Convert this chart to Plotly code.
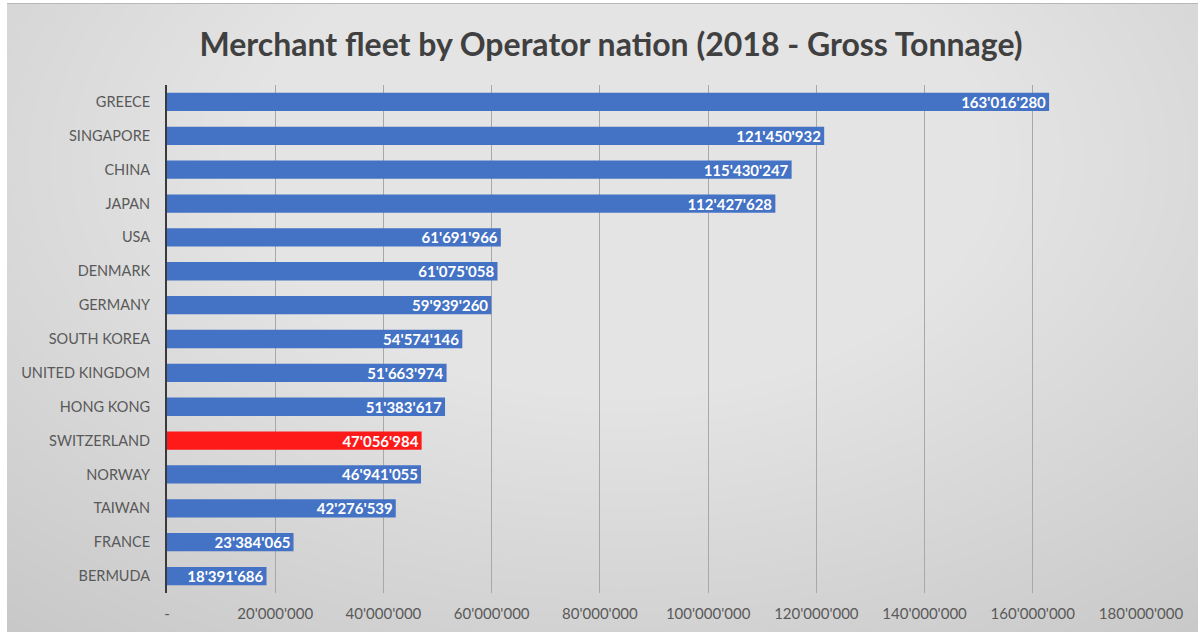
import plotly.graph_objects as go

countries = ["GREECE", "SINGAPORE", "CHINA", "JAPAN", "USA", "DENMARK", "GERMANY",
             "SOUTH KOREA", "UNITED KINGDOM", "HONG KONG", "SWITZERLAND", "NORWAY",
             "TAIWAN", "FRANCE", "BERMUDA"]
tonnage = [163016280, 121450932, 115430247, 112427628, 61691966, 61075058, 59939260,
           54574146, 51663974, 51383617, 47056984, 46941055, 42276539, 23384065, 18391686]
highlight = "SWITZERLAND"
tick_vals = [0, 20000000, 40000000, 60000000, 80000000, 100000000, 120000000,
             140000000, 160000000, 180000000]
tick_text = ["-"] + [f"{v:,}".replace(",", "'") for v in tick_vals[1:]]

W, H = 1202, 632
L, R, T, B = 167, 1141, 85, 593

def px(x):
    return (x - L) / (R - L)

def py(y):
    return (B - y) / (B - T)

colors = ["#ff1a1a" if c == highlight else "#4472c4" for c in countries]
labels = [f"{v:,}".replace(",", "'") for v in tonnage]

fig = go.Figure(go.Bar(
    x=tonnage, y=countries, orientation="h",
    marker=dict(color=colors, line=dict(width=0)),
    width=0.54,
    text=labels, textposition="inside", insidetextanchor="end",
    textfont=dict(family="Lato", size=15, color="white", weight="bold"),
    textangle=0, cliponaxis=False,
))

shapes = [dict(type="rect", xref="paper", yref="paper",
               x0=px(7), x1=px(1198), y0=py(632), y1=py(4),
               fillcolor="#c8c8c8", line=dict(width=0), layer="below")]
cx, cy = 620, 160
n = 45
for i in range(n):
    k = 1 - i / n
    rx, ry = 950 * k, 600 * k
    shapes.append(dict(type="circle", xref="paper", yref="paper",
                       x0=px(cx - rx), x1=px(cx + rx), y0=py(cy + ry), y1=py(cy - ry),
                       fillcolor="rgba(255,255,255,0.034)", line=dict(width=0), layer="below"))
shapes.append(dict(type="rect", xref="paper", yref="paper", x0=px(0), x1=px(7), y0=py(632), y1=py(0),
                   fillcolor="white", line=dict(width=0), layer="below"))
shapes.append(dict(type="rect", xref="paper", yref="paper", x0=px(1198), x1=px(1202), y0=py(632), y1=py(0),
                   fillcolor="white", line=dict(width=0), layer="below"))
shapes.append(dict(type="rect", xref="paper", yref="paper", x0=px(0), x1=px(1202), y0=py(3), y1=py(0),
                   fillcolor="white", line=dict(width=0), layer="below"))
shapes.append(dict(type="line", xref="paper", yref="paper", x0=px(7), x1=px(1198), y0=py(3.5), y1=py(3.5),
                   line=dict(color="#b8b8b8", width=1), layer="below"))

fig.update_layout(
    width=W, height=H,
    margin=dict(l=L, r=W - R, t=T, b=H - B, autoexpand=False),
    paper_bgcolor="white", plot_bgcolor="rgba(0,0,0,0)",
    shapes=shapes,
    showlegend=False,
    uniformtext=dict(minsize=15, mode="show"),
    title=dict(text="<b>Merchant fleet by Operator nation (2018 - Gross Tonnage)</b>",
               x=(611 - L) / (R - L), xref="paper", xanchor="center", y=1 - 45 / H, yanchor="middle",
               font=dict(family="Lato", size=32, color="#404040")),
    font=dict(family="Lato"),
    xaxis=dict(range=[0, 180000000], tickvals=tick_vals, ticktext=tick_text, automargin=False,
               showgrid=True, gridcolor="#a8a8a8", gridwidth=1, zeroline=False,
               showline=False, ticks="", tickfont=dict(size=15, color="#595959"),
               ticklabelstandoff=10),
    yaxis=dict(categoryorder="array", categoryarray=countries, autorange="reversed", automargin=False,
               showgrid=False, zeroline=False, showline=True, linecolor="#3a3a3a", linewidth=2,
               ticks="", tickfont=dict(size=14.5, color="#595959"), ticklabelstandoff=12),
)

fig.write_html("out.html")
